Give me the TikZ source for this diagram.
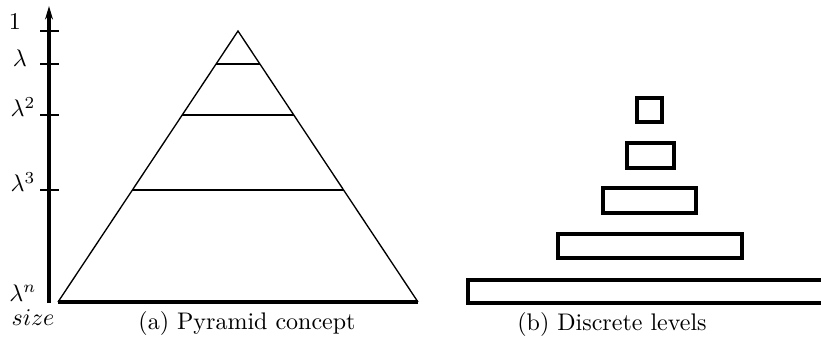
\documentclass[tikz,border=0pt]{standalone}
\usepackage{tikz}
\usetikzlibrary{arrows.meta,positioning,calc}

\begin{document}
\begin{tikzpicture}[x=0.4457pt,y=-0.4457pt,
    every node/.style={scale=1.07},
    axisline/.style={line width=1.4pt},
    tickmark/.style={line width=1pt},
    levelline/.style={line width=0.7pt},
    levelbox/.style={line width=1.4pt}]
          \useasboundingbox (0,0) rectangle (821,339);
          % (a) pyramid with the size axis
          \coordinate (axbot) at (49,303);
          \coordinate (axtop) at (49,6);
          \draw[axisline,-{Stealth[length=6pt,width=3.5pt]}] (axbot) -- (axtop);
          \foreach \ty in {31,64,115,190} {
            \draw[tickmark] (40,\ty) -- (59,\ty);
          }
          \node (one) at (15,22) {$1$};
          \node (lam) at (20,58) {$\lambda$};
          \node (lamtwo) at (23,107) {$\lambda^2$};
          \node (lamthree) at (23,182) {$\lambda^3$};
          \node (lamn) at (23,293) {$\lambda^n$};
          \node (size) at (33,318) {$size$};
          \coordinate (apex) at (238,31);
          \coordinate (baseL) at (58,302);
          \coordinate (baseR) at (418,302);
          \draw[line width=0.6pt] (baseL) -- (apex) -- (baseR);
          \draw[line width=1.4pt] (baseL) -- (baseR);
          \draw[levelline] (216,64) -- (260,64);
          \draw[levelline] (182,115) -- (294,115);
          \draw[levelline] (132,190) -- (344,190);
          \node (capa) at (247,323) {(a) Pyramid concept};
          % (b) discrete levels
          \draw[levelbox] (637,98) rectangle (662,122);
          \draw[levelbox] (627,143) rectangle (674,168);
          \draw[levelbox] (603,188) rectangle (696,213);
          \draw[levelbox] (558,234) rectangle (742,258);
          \draw[levelbox] (468,280) rectangle (830,303);
          \node (capb) at (612,324) {(b) Discrete levels};
        \end{tikzpicture}
\end{document}
